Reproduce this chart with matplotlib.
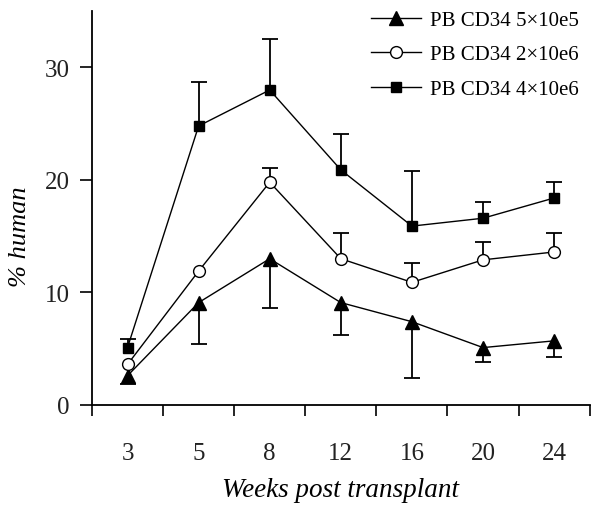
import numpy as np
import matplotlib.pyplot as plt

weeks = ["3", "5", "8", "12", "16", "20", "24"]

# PB CD34 5x10e5 (triangles, error bars drawn downward)
low_mean = [2.6, 9.1, 13.0, 9.1, 7.4, 5.1, 5.7]
low_err = [0.7, 3.7, 4.4, 2.9, 5.0, 1.3, 1.4]

# PB CD34 2x10e6 (open circles, error bars upward)
mid_mean = [3.6, 11.9, 19.8, 13.0, 10.9, 12.9, 13.6]
mid_err = [0.0, 0.0, 1.3, 2.3, 1.7, 1.6, 1.7]

# PB CD34 4x10e6 (filled squares, error bars upward)
high_mean = [5.1, 24.8, 28.0, 20.9, 15.9, 16.6, 18.4]
high_err = [0.8, 3.9, 4.5, 3.2, 4.9, 1.4, 1.4]

labels = ["PB CD34 5\u00d710e5", "PB CD34 2\u00d710e6", "PB CD34 4\u00d710e6"]

plt.rcParams['font.family'] = ['Liberation Serif', 'DejaVu Serif']

fig = plt.figure(figsize=(6.13, 5.10), dpi=100)
ax = fig.add_axes([0.150, 0.204, 0.812, 0.772])

x = np.arange(len(weeks))


def one_sided_err(ax, xs, mean, err, sign):
    # draw a single-sided error bar with a cap only at its far end
    mean = np.asarray(mean)
    err = np.asarray(err)
    keep = err > 0
    end = mean + sign * err
    ax.vlines(xs[keep], mean[keep], end[keep], color='black', lw=1.3, zorder=2)
    ax.plot(xs[keep], end[keep], ls='none', marker='_', ms=12, mew=1.3,
            color='black', zorder=2)


one_sided_err(ax, x, low_mean, low_err, -1)
one_sided_err(ax, x, mid_mean, mid_err, 1)
one_sided_err(ax, x, high_mean, high_err, 1)

l1, = ax.plot(x, low_mean, '-^', color='black', lw=1.0, ms=10,
              mfc='black', mec='black', zorder=3, label=labels[0])
l2, = ax.plot(x, mid_mean, '-o', color='black', lw=1.0, ms=8.5,
              mfc='white', mec='black', mew=1.0, zorder=3, label=labels[1])
l3, = ax.plot(x, high_mean, '-s', color='black', lw=1.0, ms=7.5,
              mfc='black', mec='black', zorder=3, label=labels[2])

ax.set_xlim(-0.5, len(weeks) - 0.5)
ax.set_ylim(0, 35)

ax.set_xticks(np.arange(-0.5, len(weeks)), minor=False)
ax.set_xticklabels([])
ax.set_xticks(x, minor=True)
ax.set_xticklabels(weeks, minor=True)
ax.tick_params(axis='x', which='major', direction='out', length=8, width=1.2)
ax.tick_params(axis='x', which='minor', length=0, pad=27, labelsize=18,
               labelcolor='#222222')

ax.set_yticks([0, 10, 20, 30])
ax.tick_params(axis='y', direction='out', length=9, width=1.2, pad=7,
               labelsize=18, labelcolor='#222222')

for s in ['top', 'right']:
    ax.spines[s].set_visible(False)
for s in ['left', 'bottom']:
    ax.spines[s].set_linewidth(1.3)

ax.set_xlabel("Weeks post transplant", fontsize=19.5, style='italic', labelpad=9)
ax.set_ylabel("% human", fontsize=19, style='italic')
ax.yaxis.set_label_coords(-0.122, 0.43)

ax.legend(handles=[l1, l2, l3], loc='upper right', bbox_to_anchor=(1.016, 1.05),
          frameon=False, fontsize=15, handlelength=2.4, handletextpad=0.45,
          labelspacing=0.72)

fig.savefig("out.png", dpi=100)
